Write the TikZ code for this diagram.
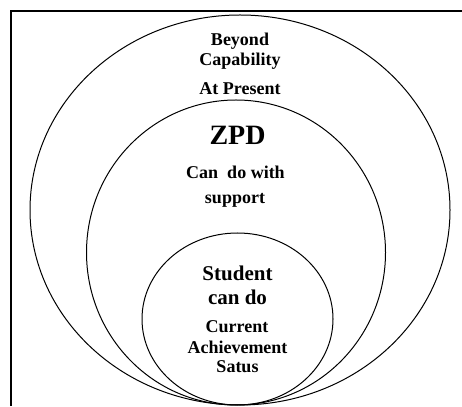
\documentclass[tikz,border=0pt]{standalone}
\usepackage{fontspec}
\setmainfont{Liberation Serif}

\tikzset{
  zone/.style={line width=1pt},
  lbl/.style={font=\bfseries\fontsize{18}{20}\selectfont, inner sep=0pt, align=center},
  biglbl/.style={font=\bfseries\fontsize{21}{23}\selectfont, inner sep=0pt},
}

\begin{document}
\begin{tikzpicture}[x=1pt,y=1pt]
                      \useasboundingbox (0,0) rectangle (462,406);
                      % frame, open at right and bottom
                      \draw[line width=2pt] (11,0) |- (462,395);
                      % outer zone, zpd and the inner zone
                      \draw[zone] (240,196) ellipse [x radius=210, y radius=195];
                      \draw[zone] (236,153.5) ellipse [x radius=149.5, y radius=152.5];
                      \draw[zone] (237.5,87) ellipse [x radius=95.5, y radius=86];
                      % labels
                      \node[lbl] (beyond) at (240,365) {Beyond};
                      \node[lbl] (capab) at (240,345) {Capability};
                      \node[lbl] (present) at (240,317) {At Present};
                      \node[font=\bfseries\fontsize{28}{30}\selectfont, inner sep=0pt] (zpd) at (237.5,271) {ZPD};
                      \node[lbl] (withsup) at (235.5,234) {Can\ \ do with};
                      \node[lbl] (support) at (235,206) {support};
                      \node[biglbl] (student) at (237.5,133) {Student};
                      \node[biglbl] (cando) at (237.5,109) {can do};
                      \node[lbl] (current) at (237,79) {Current};
                      \node[lbl] (achieve) at (237.5,59) {Achievement};
                      \node[lbl] (satus) at (237.5,39) {Satus};
                  \end{tikzpicture}
\end{document}
